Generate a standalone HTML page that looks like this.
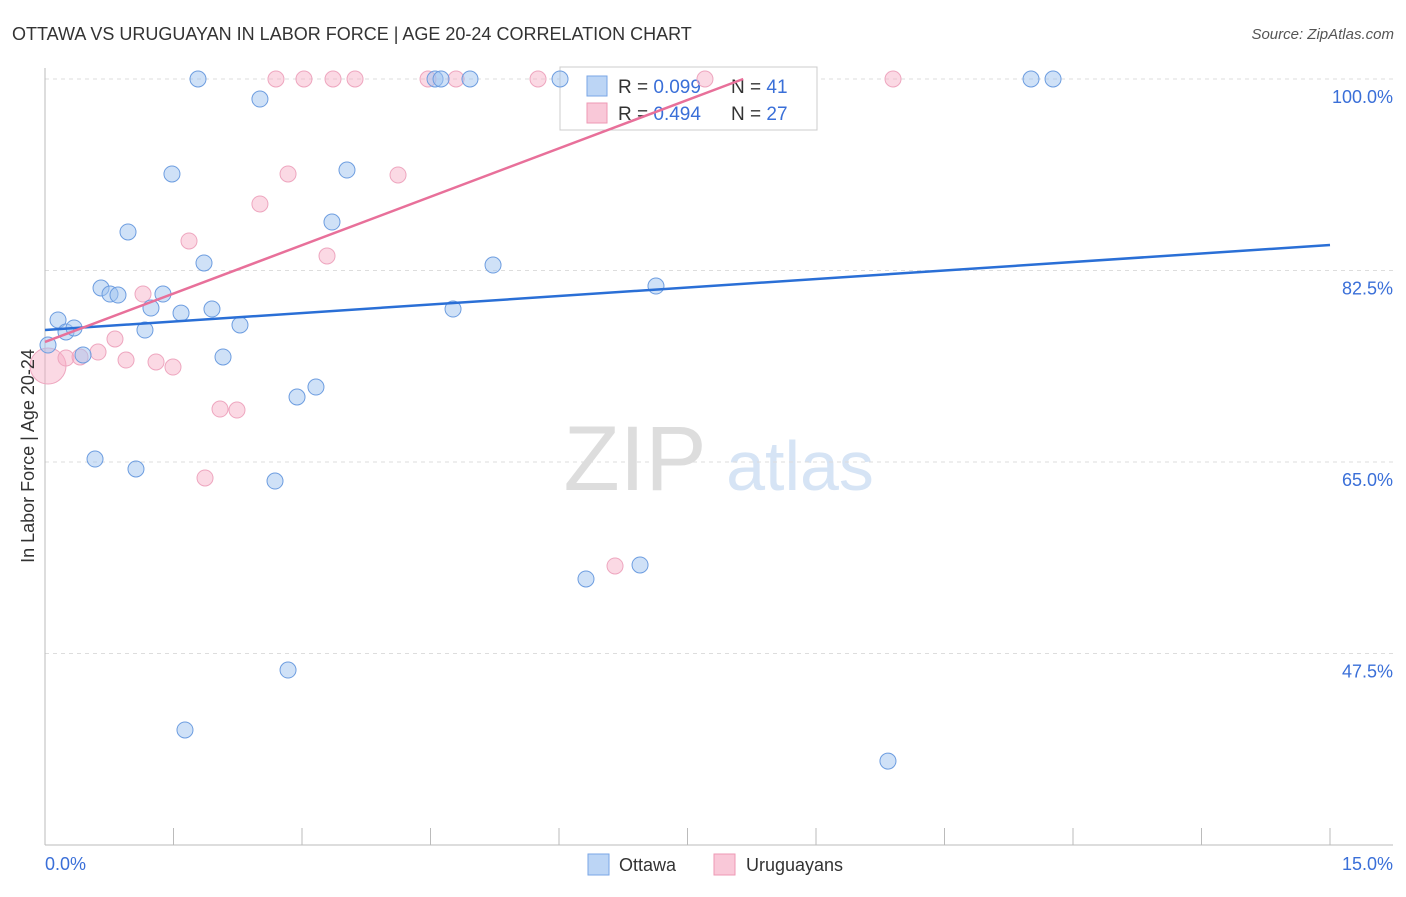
<!DOCTYPE html>
<html><head><meta charset="utf-8"><style>
body{margin:0;background:#fff;font-family:"Liberation Sans",sans-serif}
svg text{font-family:"Liberation Sans",sans-serif}
</style></head><body>
<svg width="1406" height="892" viewBox="0 0 1406 892">
<text x="12" y="40" font-size="18" fill="#333">OTTAWA VS URUGUAYAN IN LABOR FORCE | AGE 20-24 CORRELATION CHART</text>
<text x="1394" y="39" font-size="15" fill="#555" font-style="italic" text-anchor="end">Source: ZipAtlas.com</text>
<g><text x="635" y="490" font-size="92" fill="#ddd" font-family="Liberation Serif" text-anchor="middle">ZIP</text><text x="800" y="490" font-size="70" fill="#d6e4f5" text-anchor="middle">atlas</text></g>
<g id="grid"></g><g id="axes"></g>
<g>
<rect x="560" y="67" width="257" height="63" fill="#fff" stroke="#ccc"/>
<rect x="587" y="76" width="20" height="20" fill="#bcd5f5" stroke="#7aa6e6"/>
<rect x="587" y="103" width="20" height="20" fill="#f9c8d8" stroke="#ee99b4"/>
<text x="618" y="93" font-size="19" fill="#333">R = <tspan fill="#3a6fd8">0.099</tspan></text>
<text x="731" y="93" font-size="19" fill="#333">N = <tspan fill="#3a6fd8">41</tspan></text>
<text x="618" y="120" font-size="19" fill="#333">R = <tspan fill="#3a6fd8">0.494</tspan></text>
<text x="731" y="120" font-size="19" fill="#333">N = <tspan fill="#3a6fd8">27</tspan></text>
</g>
<g id="marks"></g>
<text transform="translate(34,456) rotate(-90)" font-size="18" fill="#333" text-anchor="middle">In Labor Force | Age 20-24</text>
<text x="45" y="870" font-size="18" fill="#3a6fd8">0.0%</text>
<text x="1393" y="870" font-size="18" fill="#3a6fd8" text-anchor="end">15.0%</text>
<g>
<rect x="588" y="854" width="21" height="21" fill="#bcd5f5" stroke="#7aa6e6"/>
<text x="619" y="871" font-size="18" fill="#333">Ottawa</text>
<rect x="714" y="854" width="21" height="21" fill="#f9c8d8" stroke="#ee99b4"/>
<text x="746" y="871" font-size="18" fill="#333">Uruguayans</text>
</g>
</svg>
<script>
const yTicks=[100,82.5,65,47.5];
const yTickLabels=["100.0%","82.5%","65.0%","47.5%"];
const xTicks=[0,1.5,3,4.5,6,7.5,9,10.5,12,13.5,15];
const ottawaX=[1.786,2.509,1.482,0.969,1.856,0.654,0.759,0.852,1.377,1.237,1.588,1.949,0.152,0.245,0.339,0.035,1.167,2.276,0.444,2.078,3.350,3.525,2.942,3.163,0.584,1.062,2.685,4.553,4.623,4.961,6.012,5.230,4.763,7.132,6.315,6.946,2.837,1.634,9.840,11.510,11.767];
const ottawaY=[100,98.17,91.32,86.02,83.19,80.90,80.35,80.26,80.35,79.07,78.61,78.98,77.98,76.88,77.25,75.69,77.06,77.52,74.78,74.60,86.93,91.68,70.94,71.85,65.27,64.36,63.26,100,100,100,100,83.00,78.98,81.08,54.31,55.59,45.99,40.51,37.67,100,100];
const uruX=[0.035,0.245,0.409,0.619,0.817,0.946,1.144,1.296,1.494,1.681,2.509,2.837,3.292,4.121,2.696,3.023,3.362,3.619,4.471,4.798,5.755,7.704,9.899,2.043,2.241,1.868,6.654];
const uruY=[73.77,74.50,74.60,75.05,76.24,74.32,80.35,74.14,73.68,85.20,88.58,91.32,83.83,91.23,100,100,100,100,100,100,100,100,100,69.84,69.75,63.54,55.50];
const ottawaTrend=[[0,77.06],[15,84.83]];
const uruTrend=[[0,75.97],[8.15,100]];
const NS="http://www.w3.org/2000/svg";
const sx=v=>45+v/15*1285, sy=v=>79+(100-v)/17.5*191.5;
function mk(tag,attrs,parent){const e=document.createElementNS(NS,tag);for(const k in attrs)e.setAttribute(k,attrs[k]);document.getElementById(parent).appendChild(e);return e;}
yTicks.forEach((t,i)=>{
 const l=mk('line',{x1:45,x2:1393,y1:sy(t),y2:sy(t),stroke:'#ddd','stroke-dasharray':'4,4'},'grid');
 
 
 const tx=mk('text',{x:1393,y:sy(t)+24,'font-size':18,fill:'#3a6fd8','text-anchor':'end'},'grid');
 tx.textContent=yTickLabels[i];
 
 
});
const ya=mk('line',{x1:45,x2:45,y1:68,y2:845,stroke:'#bbb'},'axes');


const xa=mk('line',{x1:45,x2:1393,y1:845,y2:845,stroke:'#bbb'},'axes');


xTicks.forEach(t=>{
 const l=mk('line',{x1:sx(t),x2:sx(t),y1:828,y2:845,stroke:'#bbb'},'axes');
 
 
});
uruX.forEach((x,i)=>{
 const c=mk('circle',{cx:sx(x),cy:sy(uruY[i]),r:i===0?18:8,fill:'rgba(246,170,196,0.45)',stroke:'#eea6bf','stroke-width':1},'marks');
 
 
});
ottawaX.forEach((x,i)=>{
 const c=mk('circle',{cx:sx(x),cy:sy(ottawaY[i]),r:8,fill:'rgba(160,196,240,0.5)',stroke:'#6d9de0','stroke-width':1},'marks');
 
 
});
const tl1=mk('line',{x1:sx(ottawaTrend[0][0]),y1:sy(ottawaTrend[0][1]),x2:sx(ottawaTrend[1][0]),y2:sy(ottawaTrend[1][1]),stroke:'#2a6fd6','stroke-width':2.5},'marks');


const tl2=mk('line',{x1:sx(uruTrend[0][0]),y1:sy(uruTrend[0][1]),x2:sx(uruTrend[1][0]),y2:sy(uruTrend[1][1]),stroke:'#e8709a','stroke-width':2.5},'marks');


</script>
</body></html>
